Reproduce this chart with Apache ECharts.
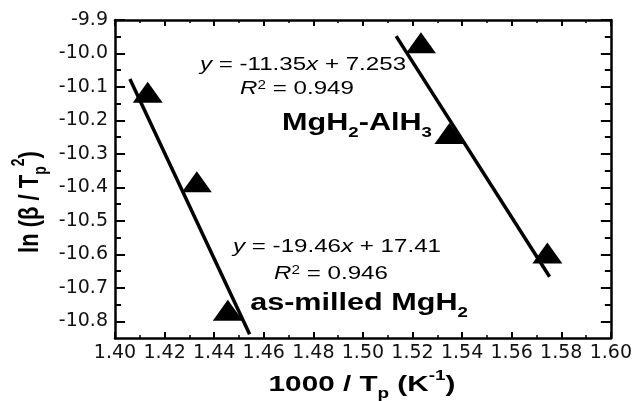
<!DOCTYPE html>
<html>
<head>
<meta charset="utf-8">
<script src="https://cdn.jsdelivr.net/npm/echarts@6/dist/echarts.min.js"></script>
<style>
  html, body { margin: 0; padding: 0; background: #fff; }
  #chart { width: 635px; height: 401px; }
</style>
</head>
<body>
<div id="chart"></div>
<script>
// 数据
const alhX = [1.5234, 1.5349, 1.5744]
const alhY = [-9.968, -10.239, -10.596]
const mgX = [1.4132, 1.4330, 1.4455]
const mgY = [-10.116, -10.383, -10.767]
// fitted lines, end points as drawn
const alhFitX = [1.5134, 1.5753]
const alhFitY = [-9.948, -10.667]
const mgFitX = [1.406, 1.4543]
const mgFitY = [-10.076, -10.839]
// axis ticks
const yTicks = [-10.8, -10.7, -10.6, -10.5, -10.4, -10.3, -10.2, -10.1, -10.0, -9.9]
const yMinorTicks = [-10.75, -10.65, -10.55, -10.45, -10.35, -10.25, -10.15, -10.05, -9.95]

const pair = (xs, ys) => xs.map((x, i) => [x, ys[i]])

const AR = 'Liberation Sans, Arial, sans-serif'
const tickFont = { fontSize: 19, fontFamily: 'DejaVu Sans', color: '#111' }
const frame = { lineStyle: { color: '#000', width: 2.5 } }

function rs(size, weight, style) {
  return { fontSize: size, fontFamily: AR, fontWeight: weight || 'normal', fontStyle: style || 'normal', fill: '#000' }
}

const chart = echarts.init(document.getElementById('chart'))
chart.setOption({
  animation: false,
  grid: { left: 115, right: 23, top: 20, bottom: 63 },
  xAxis: [
    {
      type: 'value', min: 1.40, max: 1.60, interval: 0.02, position: 'bottom',
      axisLine: frame,
      axisTick: { inside: true, length: 6, lineStyle: { color: '#000', width: 2 } },
      minorTick: { show: true, splitNumber: 2, length: 3, lineStyle: { color: '#000', width: 1.5 } },
      axisLabel: Object.assign({ margin: 6, formatter: v => v.toFixed(2) }, tickFont),
      splitLine: { show: false }
    },
    {
      type: 'value', min: 1.40, max: 1.60, interval: 0.02, position: 'top',
      axisLine: frame,
      axisTick: { inside: true, length: 6, lineStyle: { color: '#000', width: 2 } },
      minorTick: { show: true, splitNumber: 2, length: 3, lineStyle: { color: '#000', width: 1.5 } },
      axisLabel: { show: false },
      splitLine: { show: false }
    }
  ],
  yAxis: [
    {
      type: 'value', min: -10.85, max: -9.9, position: 'left',
      axisLine: frame,
      axisTick: { inside: true, length: 10, customValues: yTicks, lineStyle: { color: '#000', width: 2 } },
      axisLabel: Object.assign({ margin: 7, customValues: yTicks, formatter: v => v.toFixed(1) }, tickFont),
      splitLine: { show: false }
    },
    {
      type: 'value', min: -10.85, max: -9.9, position: 'left',
      axisLine: { show: false },
      axisTick: { inside: true, length: 6, customValues: yMinorTicks, lineStyle: { color: '#000', width: 2 } },
      axisLabel: { show: false },
      splitLine: { show: false }
    },
    {
      type: 'value', min: -10.85, max: -9.9, position: 'right',
      axisLine: frame,
      axisTick: { inside: true, length: 10, customValues: yTicks, lineStyle: { color: '#000', width: 2 } },
      axisLabel: { show: false },
      splitLine: { show: false }
    },
    {
      type: 'value', min: -10.85, max: -9.9, position: 'right',
      axisLine: { show: false },
      axisTick: { inside: true, length: 6, customValues: yMinorTicks, lineStyle: { color: '#000', width: 2 } },
      axisLabel: { show: false },
      splitLine: { show: false }
    }
  ],
  series: [
    {
      name: 'MgH2-AlH3', type: 'scatter', data: pair(alhX, alhY),
      symbol: 'triangle', symbolSize: [30, 21], itemStyle: { color: '#000', opacity: 1 }
    },
    {
      name: 'as-milled MgH2', type: 'scatter', data: pair(mgX, mgY),
      symbol: 'triangle', symbolSize: [30, 21], itemStyle: { color: '#000', opacity: 1 }
    },
    {
      name: 'fit MgH2-AlH3', type: 'line', data: pair(alhFitX, alhFitY),
      showSymbol: false, symbol: 'none', lineStyle: { color: '#000', width: 3.5 }
    },
    {
      name: 'fit as-milled', type: 'line', data: pair(mgFitX, mgFitY),
      showSymbol: false, symbol: 'none', lineStyle: { color: '#000', width: 3.5 }
    }
  ],
  graphic: [
    // 拟合方程
    {
      type: 'text', x: 303, y: 65, scaleX: 1.27,
      style: {
        text: '{i|y}{n| = -11.35}{i|x}{n| + 7.253}', align: 'center', verticalAlign: 'middle',
        rich: { n: rs(19), i: rs(19, 'normal', 'italic') }
      }
    },
    {
      type: 'text', x: 297, y: 89, scaleX: 1.27,
      style: {
        text: '{i|R}{s|2}{n| = 0.949}', align: 'center', verticalAlign: 'middle',
        rich: { n: rs(19), i: rs(19, 'normal', 'italic'), s: Object.assign(rs(12), { verticalAlign: 'top' }) }
      }
    },
    {
      type: 'text', x: 357, y: 124, scaleX: 1.33,
      style: {
        text: '{b|MgH}{d|2}{b|-AlH}{d|3}', align: 'center', verticalAlign: 'middle',
        rich: { b: Object.assign(rs(23, 'bold'), { lineHeight: 32 }), d: Object.assign(rs(14, 'bold'), { verticalAlign: 'bottom' }) }
      }
    },
    {
      type: 'text', x: 337, y: 247, scaleX: 1.27,
      style: {
        text: '{i|y}{n| = -19.46}{i|x}{n| + 17.41}', align: 'center', verticalAlign: 'middle',
        rich: { n: rs(19), i: rs(19, 'normal', 'italic') }
      }
    },
    {
      type: 'text', x: 331, y: 274, scaleX: 1.27,
      style: {
        text: '{i|R}{s|2}{n| = 0.946}', align: 'center', verticalAlign: 'middle',
        rich: { n: rs(19), i: rs(19, 'normal', 'italic'), s: Object.assign(rs(12), { verticalAlign: 'top' }) }
      }
    },
    {
      type: 'text', x: 359, y: 304, scaleX: 1.33,
      style: {
        text: '{b|as-milled MgH}{d|2}', align: 'center', verticalAlign: 'middle',
        rich: { b: Object.assign(rs(23, 'bold'), { lineHeight: 32 }), d: Object.assign(rs(14, 'bold'), { verticalAlign: 'bottom' }) }
      }
    },
    // 坐标轴标题
    {
      type: 'text', x: 362, y: 385, scaleX: 1.35,
      style: {
        text: '{b|1000 / T}{d|p}{b| (K}{u|-1}{b|)}', align: 'center', verticalAlign: 'middle',
        rich: {
          b: Object.assign(rs(22, 'bold'), { lineHeight: 32 }),
          d: Object.assign(rs(14, 'bold'), { verticalAlign: 'bottom' }),
          u: Object.assign(rs(14, 'bold'), { verticalAlign: 'top' })
        }
      }
    },
    {
      type: 'text', x: 30, y: 202, rotation: Math.PI / 2, scaleY: 1.25,
      style: {
        text: '{b|ln (β / T}{d|p}{u|2}{b|)}', align: 'center', verticalAlign: 'middle',
        rich: {
          b: Object.assign(rs(22, 'bold'), { lineHeight: 32 }),
          d: Object.assign(rs(14, 'bold'), { verticalAlign: 'bottom' }),
          u: Object.assign(rs(14, 'bold'), { verticalAlign: 'top' })
        }
      }
    }
  ]
})
</script>
</body>
</html>
